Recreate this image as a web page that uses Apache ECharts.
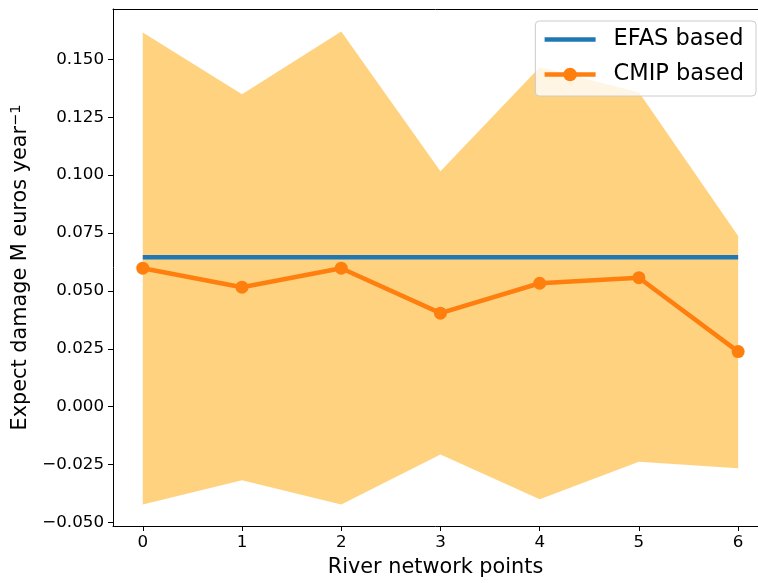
<!DOCTYPE html>
<html>
<head>
<meta charset="utf-8">
<script src="https://cdn.jsdelivr.net/npm/echarts@6/dist/echarts.min.js"></script>
<style>
  html, body { margin: 0; padding: 0; background: #fff; }
  #chart { width: 758px; height: 583px; }
</style>
</head>
<body>
<div id="chart"></div>
<script>
const points = [0, 1, 2, 3, 4, 5, 6];
const efasDamage = [0.0645, 0.0645, 0.0645, 0.0645, 0.0645, 0.0645, 0.0645];
const cmipDamage = [0.0598, 0.0516, 0.0598, 0.0404, 0.0533, 0.0557, 0.0238];
const cmipUpper = [0.1616, 0.1349, 0.162, 0.1017, 0.1466, 0.1358, 0.0737];
const cmipLower = [-0.0422, -0.0318, -0.0422, -0.0206, -0.04, -0.0238, -0.0266];
const yTicks = [-0.05, -0.025, 0, 0.025, 0.05, 0.075, 0.1, 0.125, 0.15];

const font = "DejaVu Sans";

// pair x with y for value axes
const pairs = (ys) => points.map((x, i) => [x, ys[i]]);

var myChart = echarts.init(document.getElementById("chart"), null, { renderer: "canvas" });

// shaded band between lower and upper, drawn as one polygon
const renderBand = (params, api) => {
  if (params.dataIndex !== 0) return;
  const top = points.map((x, i) => api.coord([x, cmipUpper[i]]));
  const bottom = points.map((x, i) => api.coord([x, cmipLower[i]])).reverse();
  return {
    type: "polygon",
    shape: { points: top.concat(bottom) },
    style: { fill: "rgba(255,165,0,0.5)" },
    silent: true,
  };
};

var option = {
  animation: false,
  textStyle: { fontFamily: font, color: "#000" },
  grid: {
    left: 113,
    right: 0,
    top: 9,
    bottom: 55,
  },
  legend: {
    data: [{ name: "EFAS based", itemStyle: { opacity: 0 } }, "CMIP based"],
    orient: "vertical",
    right: 2,
    top: 21,
    padding: [6, 12, 9, 7],
    itemWidth: 51,
    itemHeight: 17,
    itemGap: 10,
    backgroundColor: "rgba(255,255,255,0.8)",
    borderColor: "#cccccc",
    borderWidth: 1,
    borderRadius: 4,
    lineStyle: { width: 4.5 },
    textStyle: {
      fontFamily: font,
      fontSize: 22.5,
      color: "#000",
      lineHeight: 25,
      padding: [0, 0, 0, 13],
    },
  },
  xAxis: [
    {
      type: "value",
      min: -0.3,
      max: 6.2,
      name: "River network points",
      nameLocation: "middle",
      nameGap: 31,
      nameTextStyle: { fontFamily: font, fontSize: 20.8, color: "#000" },
      axisLine: { show: true, onZero: false, lineStyle: { color: "#000", width: 1 } },
      axisTick: { show: true, length: 5, lineStyle: { color: "#000" }, customValues: points },
      axisLabel: {
        fontFamily: font,
        fontSize: 16.7,
        color: "#000",
        margin: 8,
        customValues: points,
        formatter: (v) => String(v),
      },
      splitLine: { show: false },
    },
    {
      // top spine only
      type: "value",
      position: "top",
      min: -0.3,
      max: 6.2,
      axisLine: { show: true, onZero: false, lineStyle: { color: "#000", width: 1 } },
      axisTick: { show: false },
      axisLabel: { show: false },
      splitLine: { show: false },
    },
  ],
  yAxis: {
    type: "value",
    min: -0.0515,
    max: 0.1717,
    name: "Expect damage M euros year{sup|\u22121}",
    nameLocation: "middle",
    nameGap: 79,
    nameTextStyle: {
      fontFamily: font,
      fontSize: 20.8,
      color: "#000",
      rich: {
        sup: { fontFamily: font, fontSize: 14.5, color: "#000", padding: [0, 0, 10, 0] },
      },
    },
    axisLine: { show: true, onZero: false, lineStyle: { color: "#000", width: 1 } },
    axisTick: { show: true, length: 5, lineStyle: { color: "#000" }, customValues: yTicks },
    axisLabel: {
      fontFamily: font,
      fontSize: 16.7,
      color: "#000",
      margin: 9,
      customValues: yTicks,
      formatter: (v) => v.toFixed(3).replace("-", "\u2212"),
    },
    splitLine: { show: false },
  },
  series: [
    {
      name: "band",
      type: "custom",
      renderItem: renderBand,
      data: points.map((x, i) => [x, cmipLower[i], cmipUpper[i]]),
      encode: { x: 0, y: [1, 2] },
      silent: true,
      z: 1,
    },
    {
      name: "EFAS based",
      type: "line",
      data: pairs(efasDamage),
      symbol: "none",
      color: "#1f77b4",
      lineStyle: { color: "#1f77b4", width: 4.5 },
      z: 3,
    },
    {
      name: "CMIP based",
      type: "line",
      data: pairs(cmipDamage),
      symbol: "circle",
      symbolSize: 13,
      color: "#ff7f0e",
      itemStyle: { color: "#ff7f0e" },
      lineStyle: { color: "#ff7f0e", width: 4.5 },
      z: 4,
    },
  ],
};

option && myChart.setOption(option);
</script>
</body>
</html>
